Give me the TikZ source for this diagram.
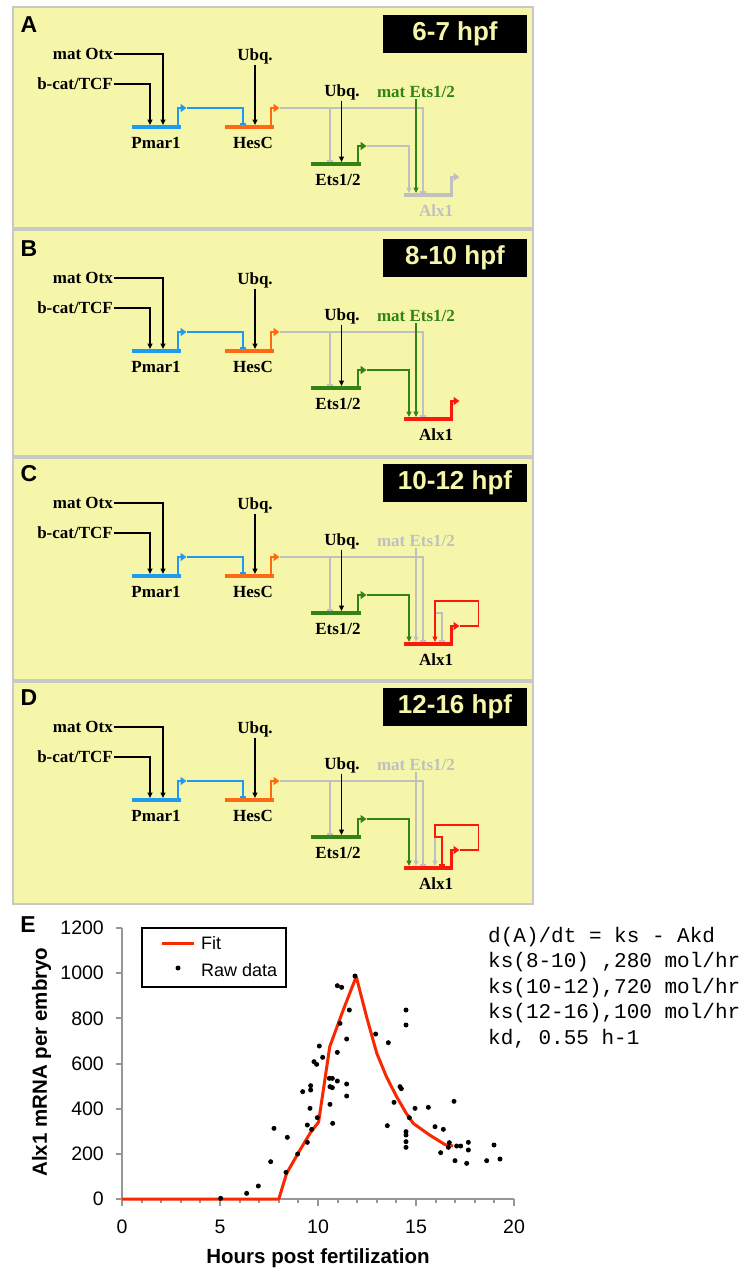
\documentclass[tikz,border=0pt]{standalone}
\usepackage{fontspec}
\setmainfont{Liberation Serif}
\newfontfamily\sansf{Liberation Sans}
\newfontfamily\monof{Liberation Mono}
\usetikzlibrary{arrows.meta}
\definecolor{panelfill}{RGB}{245,246,170}
\definecolor{panelline}{RGB}{200,200,200}
\definecolor{gblue}{RGB}{30,155,240}
\definecolor{gorange}{RGB}{255,105,20}
\definecolor{ggreen}{RGB}{50,130,20}
\definecolor{gred}{RGB}{250,25,10}
\definecolor{ggray}{RGB}{192,192,192}
\definecolor{axisgray}{RGB}{150,150,150}
\definecolor{fitred}{RGB}{250,40,0}
\definecolor{timetext}{RGB}{245,246,170}
\tikzset{
 panelbox/.style={fill=panelfill, draw=panelline, line width=2.5pt},
 letter/.style={font=\sansf\bfseries\fontsize{23}{23}\selectfont, inner sep=0pt},
 timebox/.style={fill=black, text=timetext, minimum width=144pt, minimum height=38pt, inner sep=0pt, font=\sansf\bfseries\fontsize{26}{26}\selectfont},
 src/.style={font=\bfseries\fontsize{17}{17}\selectfont, inner sep=1pt},
 glabel/.style={font=\bfseries\fontsize{17}{17}\selectfont, inner sep=1pt},
 gene/.style={line width=3.2pt},
 prom/.style={line width=2.2pt, -{Triangle[length=6pt,width=8pt]}},
 act/.style={line width=1.5pt, -{Triangle[length=5.5pt,width=5pt]}},
 rep/.style={line width=1.5pt, -{Bar[width=6pt,line width=1.8pt]}},
 axisline/.style={draw=axisgray, line width=2pt},
 ticklab/.style={font=\sansf\fontsize{19.5}{19.5}\selectfont, inner sep=0pt},
 axlab/.style={font=\sansf\bfseries\fontsize{20.5}{20.5}\selectfont, inner sep=0pt},
 leglab/.style={font=\sansf\fontsize{18}{18}\selectfont, inner sep=0pt, anchor=west},
 eqtext/.style={font=\monof\fontsize{21}{21}\selectfont, inner sep=0pt, anchor=west},
 fitline/.style={draw=fitred, line width=3pt, line join=round},
 datadot/.style={fill=black},
}
\newcommand{\grnpanel}[7]{%
\begin{scope}[shift={(0,#1)}]
 \node[letter] (#2let) at (29,25) {#2};
 \node[timebox] (#2time) at (455,34) {#3};
 \node[src,anchor=east] (#2otx) at (114,54) {mat Otx};
 \node[src,anchor=east] (#2tcf) at (114,84) {b-cat/TCF};
 \node[src] (#2ubqa) at (255,56) {Ubq.};
 \node[src] (#2ubqb) at (342,92) {Ubq.};
 \node[src,text=#5] (#2mets) at (416,92) {mat Ets1/2};
 % Pmar1
 \coordinate (#2pmarL) at (132,127); \coordinate (#2pmarR) at (181,127);
 \coordinate (#2pmarP) at (178,127); \coordinate (#2pmarT) at (186.5,108);
 \coordinate (#2pmarInA) at (163,125); \coordinate (#2pmarInB) at (150,125);
 \draw[gene,gblue] (#2pmarL) -- (#2pmarR);
 \draw[prom,gblue] (#2pmarP) |- (#2pmarT);
 \node[glabel] (#2pmarlab) at (156,143) {Pmar1};
 % HesC
 \coordinate (#2hesL) at (225,127); \coordinate (#2hesR) at (273.5,127);
 \coordinate (#2hesP) at (271,127); \coordinate (#2hesT) at (279.5,108);
 \coordinate (#2hesRep) at (243,124.5); \coordinate (#2hesIn) at (255,125);
 \draw[gene,gorange] (#2hesL) -- (#2hesR);
 \draw[prom,gorange] (#2hesP) |- (#2hesT);
 \node[glabel] (#2heslab) at (253,143) {HesC};
 % Ets1/2
 \coordinate (#2etsL) at (311,164); \coordinate (#2etsR) at (360.5,164);
 \coordinate (#2etsP) at (358.3,164); \coordinate (#2etsT) at (366.5,146);
 \coordinate (#2etsRep) at (330,161.5); \coordinate (#2etsIn) at (341.5,162);
 \coordinate (#2branch) at (330,108);
 \draw[gene,ggreen] (#2etsL) -- (#2etsR);
 \draw[prom,ggreen] (#2etsP) |- (#2etsT);
 \node[glabel] (#2etslab) at (338,180) {Ets1/2};
 % Alx1
 \coordinate (#2alxL) at (404,195); \coordinate (#2alxR) at (453,195);
 \coordinate (#2alxP) at (451.5,195); \coordinate (#2alxT) at (459.5,177);
 \coordinate (#2alxInE) at (409,193); \coordinate (#2alxInM) at (416,193);
 \coordinate (#2alxRep) at (423,192.5);
 % connectors
 \draw[act] (#2otx.east) -| (#2pmarInA);
 \draw[act] (#2tcf.east) -| (#2pmarInB);
 \draw[rep,gblue] (#2pmarT) -| (#2hesRep);
 \draw[act] (#2ubqa.south) -- (#2hesIn);
 \draw[rep,ggray] (#2hesT) -| (#2alxRep);
 \draw[rep,ggray] (#2branch) -- (#2etsRep);
 \draw[act] (#2ubqb.south -| #2etsIn) -- (#2etsIn);
 \draw[act,#4] (#2etsT) -| (#2alxInE);
 \draw[act,#5] (#2mets.south) -- (#2alxInM);
 \draw[gene,#6] (#2alxL) -- (#2alxR);
 \draw[prom,#6] (#2alxP) |- (#2alxT);
 \node[glabel,text=#7] (#2alxlab) at (436,211) {Alx1};
\end{scope}}
\begin{document}
\begin{tikzpicture}[x=1pt,y=-1pt]
\useasboundingbox (0,0) rectangle (745,1270);
\fill[white] (0,0) rectangle (745,1270);
% panels
\draw[panelbox] (13,7) rectangle (533,228.5);
\draw[panelbox] (13,230) rectangle (533,456);
\draw[panelbox] (13,457.5) rectangle (533,680);
\draw[panelbox] (13,681.5) rectangle (533,904);
\grnpanel{0}{A}{6-7 hpf}{ggray}{ggreen}{ggray}{ggray}
\grnpanel{224}{B}{8-10 hpf}{ggreen}{ggreen}{gred}{black}
\grnpanel{449}{C}{10-12 hpf}{ggreen}{ggray}{gred}{black}
\grnpanel{673}{D}{12-16 hpf}{ggreen}{ggray}{gred}{black}
% Alx1 autoregulation, panel C
\begin{scope}[shift={(0,449)}]
 \coordinate (CloopR) at (478.5,152);
 \coordinate (CloopBr) at (435,164);
 \coordinate (CalxSelf) at (435,193);
 \coordinate (CalxSelfRep) at (442,192.5);
 \draw[rep,ggray] (CloopBr) -| (CalxSelfRep);
 \draw[act,gred] (CalxT) -| (CloopR) -| (CalxSelf);
\end{scope}
% Alx1 autoregulation, panel D
\begin{scope}[shift={(0,673)}]
 \coordinate (DloopR) at (478.5,152);
 \coordinate (DloopBr) at (435,164);
 \coordinate (DalxSelf) at (435,193);
 \coordinate (DalxSelfRep) at (442,192.5);
 \draw[act,ggray] (DloopBr) -- (DalxSelf);
 \draw[rep,gred] (DalxT) -| (DloopR) -| (DloopBr) -| (DalxSelfRep);
\end{scope}
% panel E
\node[letter] (Elet) at (28,925) {E};
\begin{scope}[shift={(122,1199)}, x=19.6pt, y=0.2258pt]
 \coordinate (orig) at (0,0);
 \coordinate (ytop) at (0,1200);
 \coordinate (xend) at (20,0);
 \foreach \h in {1,...,19} \draw[axisline] (\h,0) -- ++(0pt,-4pt);
 \foreach \h in {0,5,...,20} {\draw[axisline] (\h,0) -- ++(0pt,-7pt);
   \node[ticklab] at (\h,0) [yshift=-28pt] {\h};}
 \foreach \v in {0,200,...,1200} {\draw[axisline] (0,\v) -- ++(-6pt,0pt);
   \node[ticklab,anchor=east] at (0,\v) [xshift=-18pt] {\v};}
 \draw[axisline] (ytop) -- (orig) -- (xend);
 \draw[fitline] plot coordinates {(0,0) (8,0) (8.4,114) (9.08,217) (9.6,292) (10.03,341) (10.6,675) (11.3,840) (11.95,985) (12.5,800) (13,645) (13.5,540) (14,455) (14.5,380) (14.86,335) (15.7,283) (16.5,240) (16.9,235)};
\end{scope}
% raw data dots (left part)
\begin{scope}[shift={(0,860)}, x=0.33333pt, y=-0.33333pt]
 \foreach \p in {(662,1015),(740,1000),(775,978),(812,905),(822,805),(858,937),(862,832),(893,882),(908,695),(922,795),(922,847),(932,690),(932,677),(930,745),(935,808),(942,605),(950,613),(952,773),(958,558),(968,592),(990,733),(990,680),(988,655),(997,655),(997,683),(998,790),(1012,577),(1012,663),(1020,490),(1012,377),(1025,382),(1040,708),(1040,672),(1040,537),(1048,450),(1065,348),(1127,522)}
  \fill[datadot] \p circle (2.5pt);
\end{scope}
% raw data dots (right part)
\begin{scope}[shift={(380,860)}, x=0.33333pt, y=-0.33333pt]
 \foreach \p in {(78,450),(78,495),(25,548),(60,680),(64,686),(42,727),(22,797),(88,773),(105,745),(145,742),(78,815),(78,825),(78,845),(78,862),(165,800),(190,808),(222,724),(208,848),(205,862),(182,878),(230,858),(242,858),(265,847),(265,870),(225,902),(260,910),(320,902),(342,855),(360,897)}
  \fill[datadot] \p circle (2.5pt);
\end{scope}
\node[axlab,rotate=90] (ylab) at (41.5,1062) {Alx1 mRNA per embryo};
\node[axlab] (xlab) at (318,1258) {Hours post fertilization};
% legend
\node[draw=black, line width=1.5pt, minimum width=144pt, minimum height=59pt, inner sep=0pt] (legend) at (214,957.5) {};
\coordinate (legA) at (162,943); \coordinate (legB) at (194,943);
\draw[fitline] (legA) -- (legB);
\fill[datadot] (178,968) circle (2.5pt);
\node[leglab] (legfit) at (201,943) {Fit};
\node[leglab] (legraw) at (201,970) {Raw data};
% equations
\node[eqtext] (eq1) at (488,937) {d(A)/dt = ks - Akd};
\node[eqtext] (eq2) at (488,962) {ks(8-10) ,280 mol/hr};
\node[eqtext] (eq3) at (488,988) {ks(10-12),720 mol/hr};
\node[eqtext] (eq4) at (488,1013) {ks(12-16),100 mol/hr};
\node[eqtext] (eq5) at (488,1039) {kd, 0.55 h-1};
\end{tikzpicture}
\end{document}
